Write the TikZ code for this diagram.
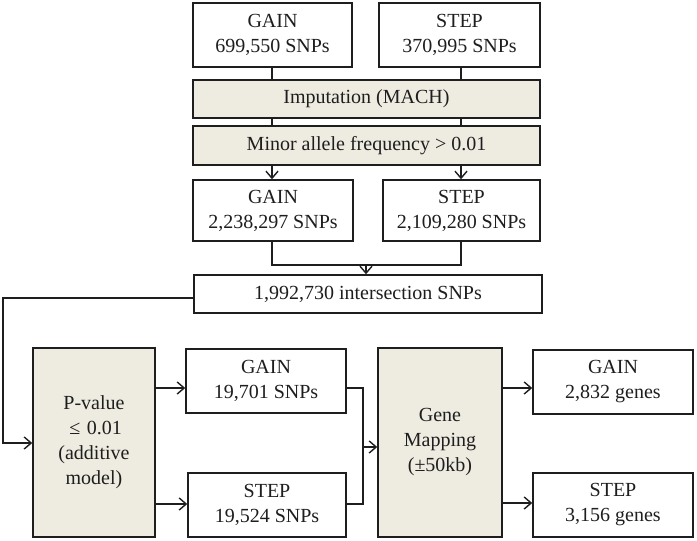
\documentclass[tikz,border=0pt]{standalone}
\usepackage{fontspec}
\setmainfont{Liberation Serif}
\usetikzlibrary{arrows.meta}
\definecolor{boxfill}{HTML}{EEEBE1}
\definecolor{ink}{HTML}{1E1E1E}
\tikzset{
  box/.style={draw=ink, line width=1.5pt, fill=white, inner sep=0pt, align=center,
    font=\fontsize{20}{25}\selectfont, text=ink},
  gbox/.style={box, fill=boxfill},
  conn/.style={draw=ink, line width=1.5pt},
  arr/.style={conn, -{Straight Barb[length=7pt,width=12pt,line width=1.4pt]}}
}
\begin{document}
\begin{tikzpicture}[x=1pt,y=-1pt]
\useasboundingbox (0,0) rectangle (697,541);
% top row
\node[box, minimum width=159pt, minimum height=64pt] (g1) at (272.5,35) {GAIN\\699,550 SNPs};
\node[box, minimum width=161pt, minimum height=64pt] (s1) at (459.5,35) {STEP\\370,995 SNPs};
\node[gbox, minimum width=347pt, minimum height=38pt] (imp) at (366.5,99) {Imputation (MACH)};
\node[gbox, minimum width=347pt, minimum height=39pt] (maf) at (366.5,145.5) {Minor allele frequency > 0.01};
\node[box, minimum width=160pt, minimum height=61pt] (g2) at (273,210.5) {GAIN\\2,238,297 SNPs};
\node[box, minimum width=157pt, minimum height=61pt] (s2) at (461.5,210.5) {STEP\\2,109,280 SNPs};
\node[box, minimum width=348pt, minimum height=38pt] (int) at (368,294) {1,992,730 intersection SNPs};
% bottom row
\node[gbox, minimum width=122pt, minimum height=189pt] (pv) at (94,442.5) {P-value\\ \,≤\,\,0.01\\(additive\\model)};
\node[box, minimum width=160pt, minimum height=64pt] (g3) at (266,381) {GAIN\\19,701 SNPs};
\node[box, minimum width=158pt, minimum height=64pt] (s3) at (267,505) {STEP\\19,524 SNPs};
\node[gbox, minimum width=124pt, minimum height=189pt] (gm) at (440,442.5) {Gene\\Mapping\\ (±50kb)};
\node[box, minimum width=160pt, minimum height=64pt] (g4) at (613,382) {GAIN\\2,832 genes};
\node[box, minimum width=160pt, minimum height=64pt] (s4) at (613,505) {STEP\\3,156 genes};
% coordinates
\coordinate (j1) at (272,265);
\coordinate (j2) at (461,265);
\coordinate (jm) at (366,265);
\coordinate (l1) at (3,298);
\coordinate (l2) at (3,443);
\coordinate (r1) at (363,388);
\coordinate (r2) at (363,504);
\coordinate (rm) at (363,447);
% connectors
\draw[conn] (g1.south -| 272,0) -- (imp.north -| 272,0);
\draw[conn] (s1.south -| 461,0) -- (imp.north -| 461,0);
\draw[conn] (imp.south -| 272,0) -- (maf.north -| 272,0);
\draw[conn] (imp.south -| 461,0) -- (maf.north -| 461,0);
\draw[arr] (maf.south -| 272,0) -- (g2.north -| 272,0);
\draw[arr] (maf.south -| 461,0) -- (s2.north -| 461,0);
\draw[conn] (g2.south -| j1) -- (j1) -- (j2) -- (s2.south -| j2);
\draw[arr] (jm) -- (int.north -| jm);
\draw[arr] (int.west |- l1) -- (l1) -- (l2) -- (pv.west |- l2);
\draw[arr] (pv.east |- 0,388) -- (g3.west |- 0,388);
\draw[arr] (pv.east |- 0,504) -- (s3.west |- 0,504);
\draw[conn] (g3.east |- r1) -- (r1) -- (r2) -- (s3.east |- r2);
\draw[arr] (rm) -- (gm.west |- rm);
\draw[arr] (gm.east |- 0,388) -- (g4.west |- 0,388);
\draw[arr] (gm.east |- 0,503) -- (s4.west |- 0,503);
\end{tikzpicture}
\end{document}
